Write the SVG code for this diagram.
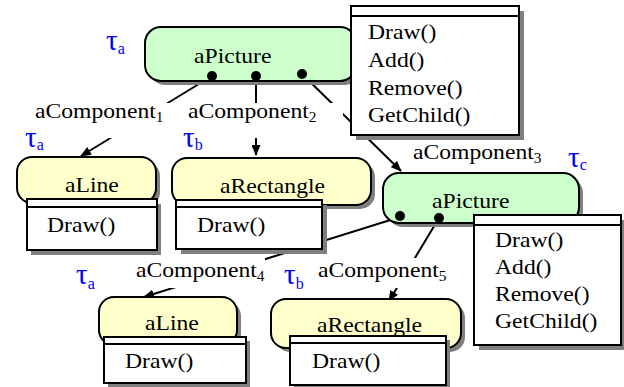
<svg xmlns="http://www.w3.org/2000/svg" width="624" height="387" viewBox="0 0 624 387" font-family="'Liberation Serif', 'DejaVu Serif', serif">
<defs>
<style>
text{font-size:21.5px;fill:#000}
.tau{font-size:29px;fill:#0000ff}
.tsub{font-size:16px;fill:#0000ff}
.sub{font-size:14px}
.shadow{fill:#7f7f7f;stroke:none}
.pic{fill:#ccffcc;stroke:#000;stroke-width:2}
.leaf{fill:#ffffcc;stroke:#000;stroke-width:2}
.box{fill:#fff;stroke:#000;stroke-width:2}
.sep{stroke:#000;stroke-width:2}
.conn{stroke:#000;stroke-width:2;fill:none;marker-end:url(#arr)}
.lbg{fill:#fff;stroke:none}
</style>
<marker id="arr" markerUnits="userSpaceOnUse" markerWidth="11" markerHeight="9" refX="10" refY="4.5" orient="auto">
<path d="M0,0 L11,4.5 L0,9 z" fill="#000"/>
</marker>
</defs>
<rect width="624" height="387" fill="#fff"/>

<g id="connectors">
<path class="conn" d="M212,76 L81,156"/>
<path class="conn" d="M256,76 L256,155"/>
<path class="conn" d="M302,74 L401,171"/>
<path class="conn" d="M400,217 L144,297"/>
<path class="conn" d="M439,218 L389,301"/>
<rect class="lbg" x="30" y="103" width="142" height="35"/>
<rect class="lbg" x="180" y="103" width="163" height="35"/>
<rect class="lbg" x="130" y="258" width="135" height="30"/>
<rect class="lbg" x="315" y="258" width="135" height="30"/>
<text transform="translate(35,118) scale(1.1,1)">aComponent<tspan class="sub" dy="4">1</tspan></text>
<text transform="translate(188,118) scale(1.1,1)">aComponent<tspan class="sub" dy="4">2</tspan></text>
<text transform="translate(413,159) scale(1.1,1)">aComponent<tspan class="sub" dy="4">3</tspan></text>
<text transform="translate(136,277) scale(1.1,1)">aComponent<tspan class="sub" dy="4">4</tspan></text>
<text transform="translate(318,277) scale(1.1,1)">aComponent<tspan class="sub" dy="4">5</tspan></text>
</g>

<g id="tau-labels">
<text class="tau" x="106" y="49.5">τ<tspan class="tsub" dy="4">a</tspan></text>
<text class="tau" x="25" y="146.5">τ<tspan class="tsub" dy="3">a</tspan></text>
<text class="tau" x="183" y="146.5">τ<tspan class="tsub" dy="3">b</tspan></text>
<text class="tau" x="568" y="167">τ<tspan class="tsub" dy="3">c</tspan></text>
<text class="tau" x="76" y="284">τ<tspan class="tsub" dy="5">a</tspan></text>
<text class="tau" x="284" y="284">τ<tspan class="tsub" dy="5">b</tspan></text>
</g>

<g id="picture1">
<rect class="shadow" x="149" y="31" width="211" height="54" rx="16"/>
<rect class="pic" x="145" y="27" width="211" height="54" rx="16"/>
<text transform="translate(194,63) scale(1.1,1)">aPicture</text>
<circle cx="212" cy="76" r="5" fill="#000"/>
<circle cx="256" cy="76" r="5" fill="#000"/>
<circle cx="302" cy="74" r="5" fill="#000"/>
<rect class="shadow" x="356" y="11" width="168" height="129"/>
<rect class="box" x="351" y="6" width="168" height="129"/>
<line class="sep" x1="351" y1="16" x2="519" y2="16"/>
<text transform="translate(368,38.5) scale(1.1,1)">Draw()</text>
<text transform="translate(368,66.5) scale(1.1,1)">Add()</text>
<text transform="translate(368,94.5) scale(1.1,1)">Remove()</text>
<text transform="translate(368,121.5) scale(1.1,1)">GetChild()</text>
</g>

<g id="line1">
<rect class="shadow" x="21" y="161" width="139" height="46" rx="15"/>
<rect class="leaf" x="17" y="157" width="139" height="46" rx="15"/>
<text transform="translate(65,192) scale(1.1,1)">aLine</text>
<rect class="shadow" x="31" y="204" width="130" height="51"/>
<rect class="box" x="27" y="199" width="130" height="51"/>
<line class="sep" x1="27" y1="207" x2="157" y2="207"/>
<text transform="translate(47,232) scale(1.1,1)">Draw()</text>
</g>

<g id="rectangle1">
<rect class="shadow" x="176" y="162" width="199" height="47" rx="15"/>
<rect class="leaf" x="172" y="158" width="199" height="47" rx="15"/>
<text transform="translate(220,193) scale(1.1,1)">aRectangle</text>
<rect class="shadow" x="181" y="205" width="146" height="49"/>
<rect class="box" x="176" y="200" width="146" height="49"/>
<line class="sep" x1="176" y1="207" x2="322" y2="207"/>
<text transform="translate(197,232) scale(1.1,1)">Draw()</text>
</g>

<g id="picture2">
<rect class="shadow" x="387" y="177" width="196" height="50" rx="16"/>
<rect class="pic" x="383" y="173" width="196" height="50" rx="16"/>
<text transform="translate(432,208) scale(1.1,1)">aPicture</text>
<circle cx="400" cy="216" r="5" fill="#000"/>
<circle cx="439" cy="218" r="5" fill="#000"/>
<rect class="shadow" x="479" y="220" width="147" height="130"/>
<rect class="box" x="474" y="215" width="147" height="130"/>
<line class="sep" x1="474" y1="225" x2="621" y2="225"/>
<text transform="translate(495,247) scale(1.1,1)">Draw()</text>
<text transform="translate(495,274) scale(1.1,1)">Add()</text>
<text transform="translate(495,301) scale(1.1,1)">Remove()</text>
<text transform="translate(495,328) scale(1.1,1)">GetChild()</text>
</g>

<g id="line2">
<rect class="shadow" x="103" y="301" width="138" height="48" rx="15"/>
<rect class="leaf" x="99" y="297" width="138" height="48" rx="15"/>
<text transform="translate(145,330) scale(1.1,1)">aLine</text>
<rect class="shadow" x="108" y="341" width="142" height="46"/>
<rect class="box" x="104" y="337" width="142" height="46"/>
<line class="sep" x1="104" y1="344" x2="246" y2="344"/>
<text transform="translate(125,368) scale(1.1,1)">Draw()</text>
</g>

<g id="rectangle2">
<rect class="shadow" x="275" y="303" width="190" height="49" rx="15"/>
<rect class="leaf" x="271" y="299" width="190" height="49" rx="15"/>
<text transform="translate(317,332) scale(1.1,1)">aRectangle</text>
<rect class="shadow" x="294" y="340" width="156" height="49"/>
<rect class="box" x="290" y="336" width="156" height="49"/>
<line class="sep" x1="290" y1="343" x2="446" y2="343"/>
<text transform="translate(312,368) scale(1.1,1)">Draw()</text>
</g>
</svg>
